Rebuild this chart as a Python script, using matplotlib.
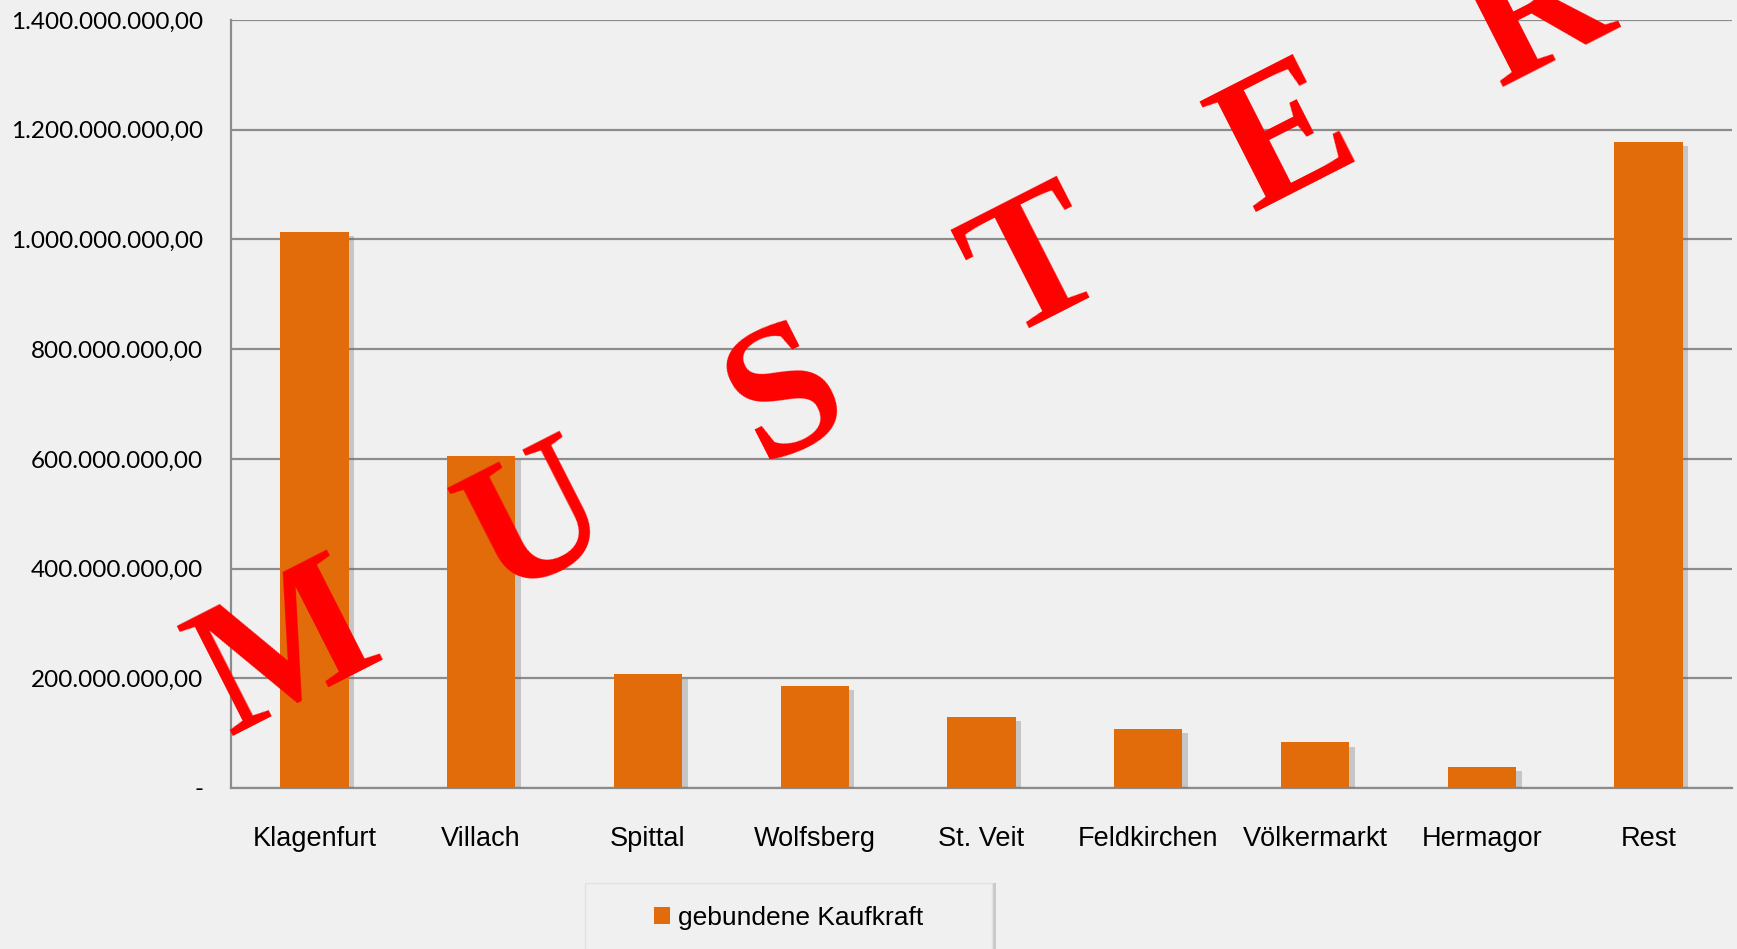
"""Bar chart: gebundene Kaufkraft je Bezirk, with MUSTER watermark."""

import matplotlib
matplotlib.use("Agg")
import matplotlib.pyplot as plt
import matplotlib.patheffects as pe
from matplotlib.patches import Rectangle

categories = ["Klagenfurt", "Villach", "Spittal", "Wolfsberg", "St. Veit",
              "Feldkirchen", "Völkermarkt", "Hermagor", "Rest"]
kaufkraft = [1014e6, 606e6, 207e6, 186e6, 130e6, 107e6, 83e6, 39e6, 1178e6]
y_ticks = [0, 200e6, 400e6, 600e6, 800e6, 1000e6, 1200e6, 1400e6]
y_labels = ["-", "200.000.000,00", "400.000.000,00", "600.000.000,00",
            "800.000.000,00", "1.000.000.000,00", "1.200.000.000,00",
            "1.400.000.000,00"]
series_name = "gebundene Kaufkraft"
watermark = "MUSTER"

BG = "#f0f0f0"
ORANGE = "#e36c0a"
GRID = "#8c8c8c"
NARROW = ["Liberation Sans Narrow", "Liberation Sans", "DejaVu Sans"]
LABEL_FONT = ["Lato", "DejaVu Sans"]

W, H = 1737, 949
fig = plt.figure(figsize=(W / 100, H / 100), dpi=100, facecolor=BG)
ax = fig.add_axes([231 / W, 1 - 788 / H, (1732 - 231) / W, (788 - 20) / H])
ax.set_facecolor(BG)

x = range(len(categories))
bars = ax.bar(x, kaufkraft, width=0.41, color=ORANGE, zorder=3)
for b in bars:
    b.set_path_effects([pe.SimplePatchShadow(offset=(4, -3), shadow_rgbFace="#666666",
                                             alpha=0.3), pe.Normal()])

ax.set_xlim(-0.5, len(categories) - 0.5)
ax.set_ylim(0, 1400e6)
ax.set_yticks(y_ticks)
ax.set_yticklabels(y_labels, fontfamily=LABEL_FONT, fontsize=17.5)
ax.set_xticks(list(x))
ax.set_xticklabels(categories, fontfamily=NARROW, fontsize=19.5)
ax.tick_params(axis="y", length=0, pad=20, colors="black")
ax.tick_params(axis="x", length=0, pad=27, colors="black")
ax.yaxis.grid(True, color=GRID, linewidth=1.6, zorder=0)
ax.set_axisbelow(True)
for side in ["top", "right"]:
    ax.spines[side].set_visible(False)
for side in ["left", "bottom"]:
    ax.spines[side].set_color(GRID)
    ax.spines[side].set_linewidth(1.6)

# legend box (cut off at bottom edge, with a soft shadow on the right)
shadow = Rectangle((589 / W, -0.05), (992 - 585) / W, (949 - 883) / H + 0.05,
                   transform=fig.transFigure, facecolor="#9a9a9a", alpha=0.45,
                   edgecolor="none", zorder=1)
box = Rectangle((585 / W, -0.05), (992 - 585) / W, (949 - 883) / H + 0.05,
                transform=fig.transFigure, facecolor=BG, edgecolor="#e2e2e2",
                linewidth=1, zorder=2)
fig.patches.extend([shadow, box])
handle = Rectangle((0, 0), 1, 1, facecolor=ORANGE, edgecolor="none")
leg = fig.legend(handles=[handle], labels=[series_name], loc="center",
                 bbox_to_anchor=((585 + 992) / 2 / W, 1 - 918 / H),
                 frameon=False, handlelength=0.62, handleheight=0.62,
                 handletextpad=0.3, prop={"family": NARROW, "size": 19})
leg.set_zorder(4)

# MUSTER watermark, letters stepping up to the right
start_x, start_y = 288, 655
step_x, step_y = 250, -128
for i, ch in enumerate(watermark):
    fig.text((start_x + i * step_x) / W, 1 - (start_y + i * step_y) / H, ch,
             color="#ff0000", fontsize=135, fontweight="bold",
             fontfamily=["Liberation Serif", "DejaVu Serif"], rotation=27,
             ha="center", va="center", zorder=10)

fig.savefig("out.png", dpi=100, facecolor=BG)
